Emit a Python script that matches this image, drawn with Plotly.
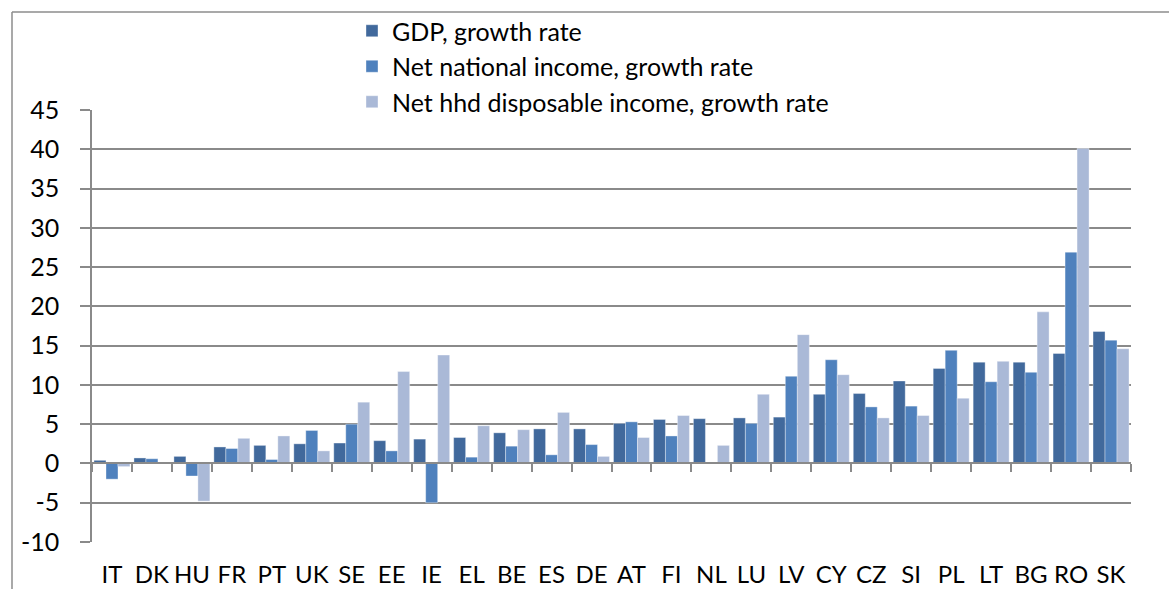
import plotly.graph_objects as go

countries = ["IT", "DK", "HU", "FR", "PT", "UK", "SE", "EE", "IE", "EL", "BE", "ES", "DE",
             "AT", "FI", "NL", "LU", "LV", "CY", "CZ", "SI", "PL", "LT", "BG", "RO", "SK"]

gdp_growth = [0.4, 0.7, 0.9, 2.1, 2.3, 2.5, 2.6, 2.9, 3.1, 3.3, 3.9, 4.4, 4.4,
              5.1, 5.6, 5.7, 5.8, 5.9, 8.8, 8.9, 10.5, 12.1, 12.9, 12.9, 14.0, 16.8]
nni_growth = [-2.0, 0.6, -1.6, 1.9, 0.5, 4.2, 5.0, 1.6, -5.0, 0.8, 2.2, 1.1, 2.4,
              5.3, 3.5, 0.0, 5.1, 11.1, 13.2, 7.2, 7.3, 14.4, 10.4, 11.6, 26.9, 15.7]
hhd_growth = [-0.4, 0.0, -4.8, 3.2, 3.5, 1.6, 7.8, 11.7, 13.8, 4.8, 4.3, 6.5, 0.9,
              3.3, 6.1, 2.3, 8.8, 16.4, 11.3, 5.8, 6.1, 8.3, 13.0, 19.3, 40.1, 14.6]

series_names = ["GDP, growth rate",
                "Net national income, growth rate",
                "Net hhd disposable income, growth rate"]
series_colors = ["#41699C", "#4F81BD", "#AAB9D7"]

y_min, y_max, y_step = -10, 45, 5
y_ticks = list(range(y_min, y_max + 1, y_step))
y_ticktext = [str(v) for v in y_ticks]

FONT = "Lato"
FSIZE = 25
GRID = "#8A8A8A"

fig = go.Figure()
for name, vals, col in zip(series_names, [gdp_growth, nni_growth, hhd_growth], series_colors):
    fig.add_trace(go.Bar(
        x=countries, y=vals, name=name,
        marker=dict(color=col, line=dict(color="rgba(255,255,255,0.6)", width=0.6)),
    ))

n = len(countries)
# secondary axis that carries the category boundary ticks along the zero line
fig.add_trace(go.Scatter(x=[None], y=[None], xaxis="x2", showlegend=False, hoverinfo="skip"))

zero_pos = (0 - y_min) / (y_max - y_min)

fig.update_layout(
    width=1169, height=589,
    paper_bgcolor="white", plot_bgcolor="white",
    margin=dict(l=92, r=38, t=110, b=47, autoexpand=False),
    barmode="group", bargap=0.1, bargroupgap=0,
    font=dict(family=FONT, size=FSIZE, color="#000000"),
    legend=dict(
        x=(352 - 92) / 1039, y=1 + (110 - 8) / 432, xanchor="left", yanchor="top",
        bgcolor="rgba(0,0,0,0)", font=dict(family=FONT, size=FSIZE),
        itemwidth=30, tracegroupgap=0,
    ),
    xaxis=dict(
        type="category", categoryarray=countries, range=[-0.5, n - 0.5],
        showgrid=False, showline=False, ticks="", zeroline=False, automargin=False,
        tickfont=dict(family=FONT, size=24), ticklabelstandoff=16,
    ),
    xaxis2=dict(
        overlaying="x", anchor="free", position=zero_pos, range=[-0.5, n - 0.5],
        tickvals=[i - 0.5 for i in range(n + 1)], showticklabels=False,
        ticks="outside", ticklen=8, tickcolor=GRID, tickwidth=1.5, automargin=False,
        showline=True, linecolor=GRID, linewidth=1.5, showgrid=False, zeroline=False,
    ),
    yaxis=dict(
        range=[y_min, y_max], tickvals=y_ticks, ticktext=y_ticktext,
        showgrid=True, gridcolor=GRID, gridwidth=1.5, automargin=False,
        zeroline=True, zerolinecolor=GRID, zerolinewidth=1.5,
        showline=True, linecolor=GRID, linewidth=1.5,
        ticks="outside", ticklen=10, tickcolor=GRID, tickwidth=1.5,
        tickfont=dict(family=FONT, size=FSIZE), ticklabelstandoff=16,
    ),
    shapes=[
        # chart frame (left and top edges)
        dict(type="line", xref="paper", yref="paper",
             x0=(12 - 92) / 1039, x1=(12 - 92) / 1039, y0=1 + (110 - 12) / 432, y1=-0.2,
             line=dict(color="#8C8C8C", width=1.5)),
        dict(type="line", xref="paper", yref="paper",
             x0=(12 - 92) / 1039, x1=1.1, y0=1 + (110 - 12) / 432, y1=1 + (110 - 12) / 432,
             line=dict(color="#8C8C8C", width=1.5)),
    ],
)

fig.write_html("out.html")
